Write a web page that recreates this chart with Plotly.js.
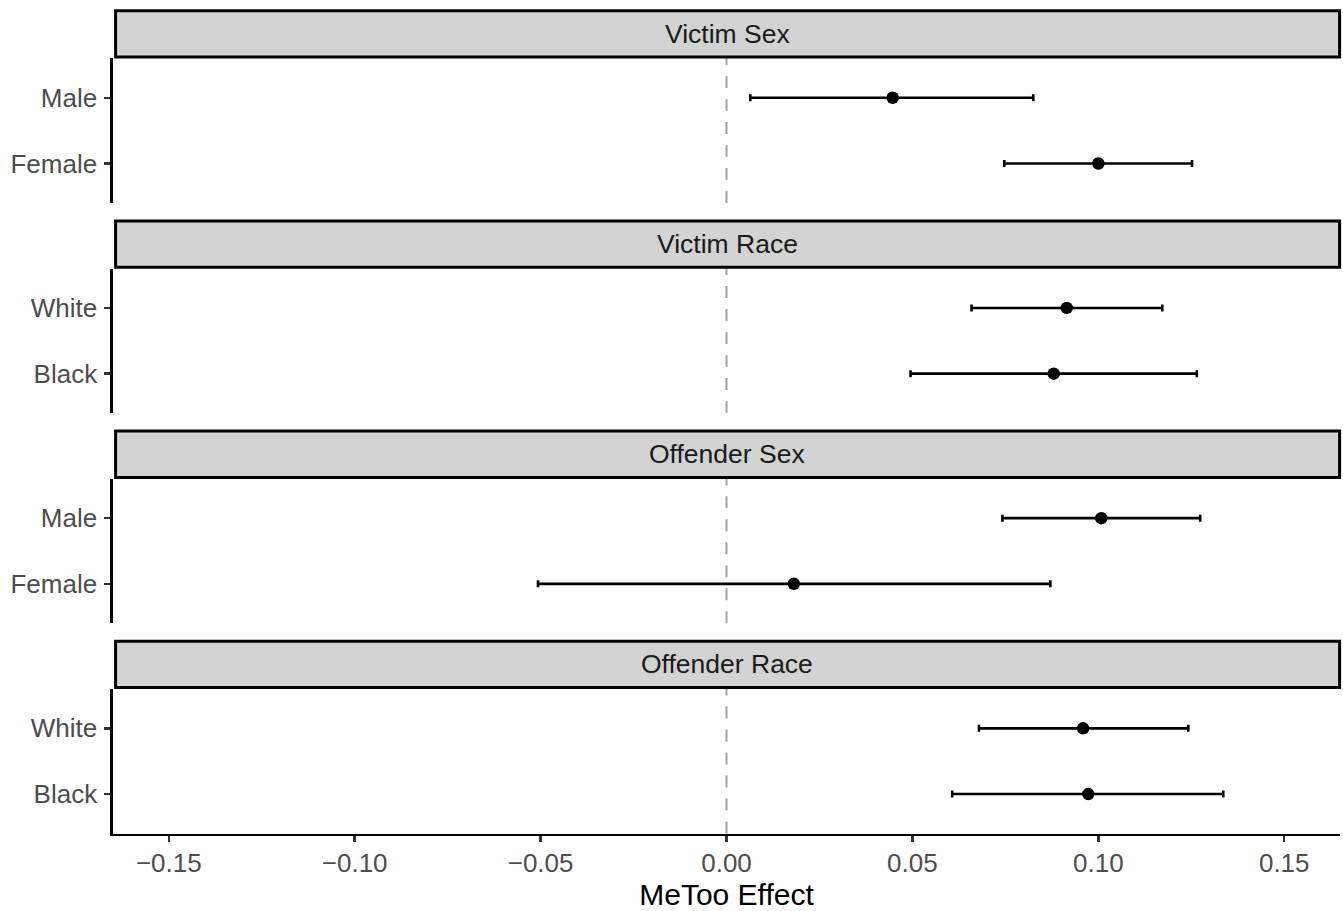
<!DOCTYPE html>
<html>
<head>
<meta charset="utf-8">
<script src="https://cdn.plot.ly/plotly-3.0.1.min.js"></script>
<style>
  html, body { margin: 0; padding: 0; background: #ffffff; }
  #chart { width: 1343px; height: 911px; }
</style>
</head>
<body>
<div id="chart"></div>
<script>
// Facet titles, top to bottom
const panelTitles = ['Victim Sex', 'Victim Race', 'Offender Sex', 'Offender Race'];

// Victim sex
const victimSexLevels = ['Male', 'Female'];
const victimSexEst = [0.0447, 0.1000];
const victimSexLo  = [0.0064, 0.0747];
const victimSexHi  = [0.0825, 0.1252];

// Victim race
const victimRaceLevels = ['White', 'Black'];
const victimRaceEst = [0.0915, 0.0880];
const victimRaceLo  = [0.0659, 0.0495];
const victimRaceHi  = [0.1172, 0.1265];

// Offender sex
const offenderSexLevels = ['Male', 'Female'];
const offenderSexEst = [0.1008, 0.0181];
const offenderSexLo  = [0.0742, -0.0507];
const offenderSexHi  = [0.1274, 0.0871];

// Offender race
const offenderRaceLevels = ['White', 'Black'];
const offenderRaceEst = [0.0959, 0.0973];
const offenderRaceLo  = [0.0679, 0.0607];
const offenderRaceHi  = [0.1242, 0.1336];

// x axis ticks
const xTickVals = [-0.15, -0.10, -0.05, 0.00, 0.05, 0.10, 0.15];
const xTickText = ['\u22120.15', '\u22120.10', '\u22120.05', '0.00', '0.05', '0.10', '0.15'];

const panels = [
  { levels: victimSexLevels,    est: victimSexEst,    lo: victimSexLo,    hi: victimSexHi },
  { levels: victimRaceLevels,   est: victimRaceEst,   lo: victimRaceLo,   hi: victimRaceHi },
  { levels: offenderSexLevels,  est: offenderSexEst,  lo: offenderSexLo,  hi: offenderSexHi },
  { levels: offenderRaceLevels, est: offenderRaceEst, lo: offenderRaceLo, hi: offenderRaceHi }
];

// Page geometry (pixels)
const W = 1343, H = 911;
const ML = 113, MR = 3;
const plotW = W - ML - MR;
const panelTop0 = 58.3;      // top of first panel's plotting area
const panelH = 144.6;        // height of each plotting area
const pitch = 210.2;         // distance from one panel to the next
const stripH = 46.3;         // strip height (stroke centre to stroke centre)

const py = v => 1 - v / H;              // pixel row -> paper fraction
const px = v => (v - ML) / plotW;       // pixel column -> paper fraction

const FONT = 'Liberation Sans, Arial, sans-serif';
const tickFont = { family: FONT, size: 26, color: '#4d4d4d' };

const data = [];
const layout = {
  width: W, height: H,
  margin: { l: ML, r: MR, t: 0, b: 0 },
  paper_bgcolor: '#ffffff',
  plot_bgcolor: 'rgba(0,0,0,0)',
  showlegend: false,
  shapes: [],
  annotations: [],
  xaxis: {
    range: [-0.165, 0.165],
    domain: [0, 1],
    anchor: 'y4',
    tickvals: xTickVals,
    ticktext: xTickText,
    tickfont: tickFont,
    ticks: 'outside', ticklen: 6, tickwidth: 2.4, tickcolor: '#333333',
    ticklabelstandoff: -1,
    showline: true, linecolor: '#000000', linewidth: 2.6,
    showgrid: false, zeroline: false,
    title: { text: 'MeToo Effect', font: { family: FONT, size: 30, color: '#000000' }, standoff: 11 }
  }
};

panels.forEach((p, k) => {
  const top = panelTop0 + pitch * k;
  const bottom = top + panelH;
  const yName = k === 0 ? 'y' : 'y' + (k + 1);
  const axKey = k === 0 ? 'yaxis' : 'yaxis' + (k + 1);

  layout[axKey] = {
    domain: [py(bottom), py(top)],
    anchor: 'x',
    type: 'category',
    categoryorder: 'array',
    categoryarray: p.levels.slice().reverse(),
    range: [-0.6, 1.6],
    tickfont: tickFont,
    ticks: 'outside', ticklen: 6, tickwidth: 2.4, tickcolor: '#333333',
    ticklabelstandoff: 2,
    showline: true, linecolor: '#000000', linewidth: 2.6,
    showgrid: false, zeroline: false, fixedrange: true
  };

  // reference line at zero effect
  layout.shapes.push({
    type: 'line', layer: 'below',
    xref: 'x', x0: 0, x1: 0,
    yref: yName + ' domain', y0: 0, y1: 1,
    line: { color: '#a3a3a3', width: 2, dash: '12px,11px' }
  });

  // facet strip
  const sTop = top - 47.6;
  const sBot = sTop + stripH;
  layout.shapes.push({
    type: 'rect', layer: 'above',
    xref: 'paper', yref: 'paper',
    x0: px(115.6), x1: px(1339.6),
    y0: py(sBot), y1: py(sTop),
    fillcolor: '#d3d3d3',
    line: { color: '#000000', width: 3 }
  });
  layout.annotations.push({
    xref: 'paper', yref: 'paper',
    x: px(727), y: py((sTop + sBot) / 2),
    xanchor: 'center', yanchor: 'middle',
    text: panelTitles[k], showarrow: false,
    font: { family: FONT, size: 26.5, color: '#1a1a1a' }
  });

  data.push({
    type: 'scatter', mode: 'markers',
    xaxis: 'x', yaxis: yName,
    x: p.est, y: p.levels,
    marker: { color: '#000000', size: 12.5 },
    error_x: {
      type: 'data', symmetric: false,
      array: p.hi.map((h, i) => h - p.est[i]),
      arrayminus: p.est.map((e, i) => e - p.lo[i]),
      color: '#000000', thickness: 2.6, width: 3.5
    },
    hoverinfo: 'x+y'
  });
});

Plotly.newPlot('chart', data, layout, { staticPlot: true, displayModeBar: false });
</script>
</body>
</html>
